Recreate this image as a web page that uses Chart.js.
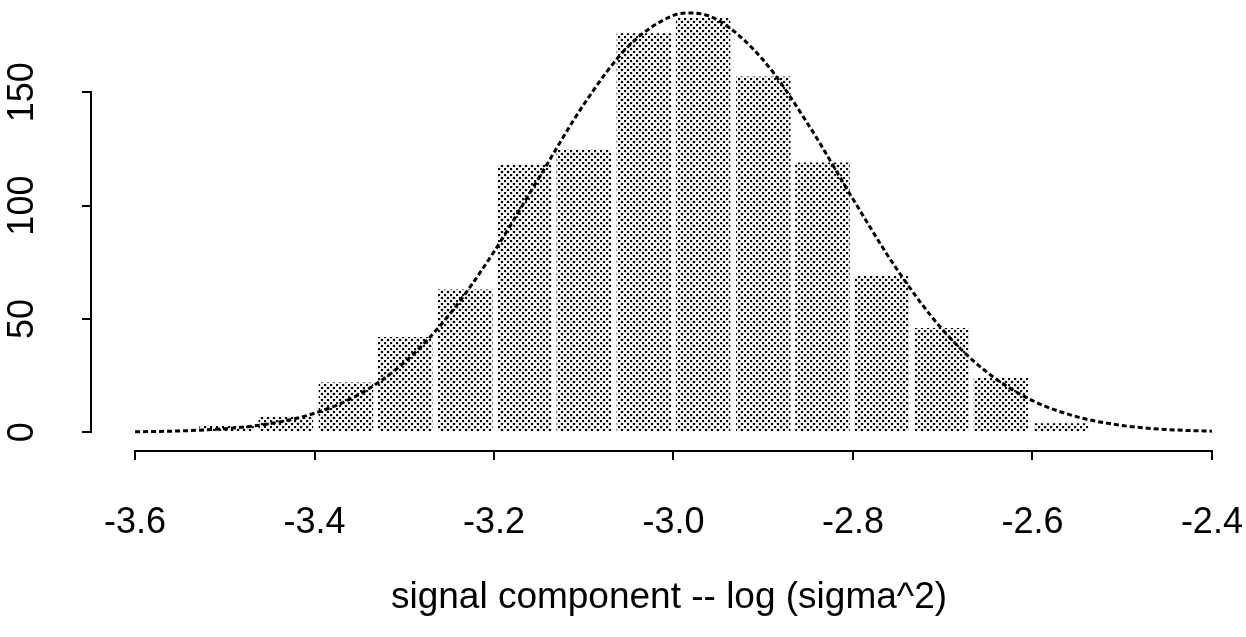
<!DOCTYPE html>
<html>
<head>
<meta charset="utf-8">
<title>signal component histogram</title>
<script src="https://cdn.jsdelivr.net/npm/chart.js@4.4.1/dist/chart.umd.min.js"></script>
<style>
  body { margin: 0; background: #fff; }
  canvas { display: block; }
</style>
</head>
<body>
<canvas id="histChart" width="1246" height="637"></canvas>
<script>
///////////////////////////////// Data /////////////////////////////////

// Histogram: centre of each bin and its count
const binCentres = [-3.498, -3.432, -3.365, -3.299, -3.232, -3.166, -3.100, -3.033,
                    -2.967, -2.900, -2.834, -2.768, -2.701, -2.635, -2.568];
const binCounts = [3, 7, 22, 42, 63, 118, 125, 176, 183, 157, 119, 69, 46, 24, 4];

// Dotted curve
const curveX = [-3.60, -3.55, -3.50, -3.45, -3.40, -3.35, -3.30, -3.25, -3.20, -3.15,
                -3.10, -3.05, -3.00, -2.98, -2.95, -2.90, -2.85, -2.80, -2.75, -2.70,
                -2.65, -2.60, -2.55, -2.50, -2.45, -2.40];
const curveY = [0.2, 0.6, 1.6, 3.8, 8.4, 16.8, 30.8, 51.8, 79.7, 112.2,
                144.6, 170.4, 183.9, 185, 181.7, 164.2, 135.9, 102.9, 71.3, 45.2,
                26.3, 14.0, 6.8, 3.0, 1.2, 0.5];

// Axes
const xTickValues = [-3.6, -3.4, -3.2, -3.0, -2.8, -2.6, -2.4];
const xTickLabels = ['-3.6', '-3.4', '-3.2', '-3.0', '-2.8', '-2.6', '-2.4'];
const yTickValues = [0, 50, 100, 150];
const yTickLabels = ['0', '50', '100', '150'];
const xTitle = 'signal component -- log (sigma^2)';

const fontFamily = '"Liberation Sans", Arial, Helvetica, sans-serif';

///////////////////////////////// Helpers /////////////////////////////////

// Stippled fill like the printed bars
function makeStipple(ctx) {
    const tile = document.createElement('canvas');
    tile.width = 6;
    tile.height = 6;
    const t = tile.getContext('2d');
    t.fillStyle = '#fff';
    t.fillRect(0, 0, 6, 6);
    t.fillStyle = '#000';
    [[1, 1], [4, 4]].forEach(p => {
        t.beginPath();
        t.arc(p[0], p[1], 1.3, 0, Math.PI * 2);
        t.fill();
    });
    return ctx.createPattern(tile, 'repeat');
}

// Axis lines only run from the first to the last tick (R style)
const axisLines = {
    id: 'axisLines',
    afterDraw(chart) {
        const ctx = chart.ctx;
        const xs = chart.scales.x;
        const ys = chart.scales.y;
        ctx.save();
        ctx.strokeStyle = '#000';
        ctx.lineWidth = 2;
        ctx.beginPath();
        ctx.moveTo(xs.getPixelForValue(xTickValues[0]), xs.top + 1);
        ctx.lineTo(xs.getPixelForValue(xTickValues[xTickValues.length - 1]), xs.top + 1);
        ctx.moveTo(ys.right - 1, ys.getPixelForValue(yTickValues[0]));
        ctx.lineTo(ys.right - 1, ys.getPixelForValue(yTickValues[yTickValues.length - 1]));
        ctx.stroke();
        ctx.restore();
    }
};

///////////////////////////////// Chart /////////////////////////////////

const ctx = document.getElementById('histChart').getContext('2d');

const config = {
    type: 'bar',
    data: {
        datasets: [
            {
                type: 'line',
                data: curveX.map((x, i) => ({ x: x, y: curveY[i] })),
                borderColor: '#000',
                borderWidth: 3,
                borderDash: [5, 3],
                pointRadius: 0,
                fill: false,
                cubicInterpolationMode: 'monotone',
                order: 0
            },
            {
                type: 'bar',
                data: binCentres.map((x, i) => ({ x: x, y: binCounts[i] })),
                backgroundColor: makeStipple(ctx),
                borderWidth: 0,
                barPercentage: 0.92,
                categoryPercentage: 1,
                order: 1
            }
        ]
    },
    options: {
        responsive: false,
        animation: false,
        events: [],
        layout: { padding: 0 },
        plugins: {
            legend: { display: false },
            tooltip: { enabled: false }
        },
        scales: {
            x: {
                type: 'linear',
                min: -3.648,
                max: -2.362,
                offset: false,
                afterBuildTicks: s => { s.ticks = xTickValues.map(v => ({ value: v })); },
                afterFit: s => { s.height = 187; s.paddingLeft = 0; s.paddingRight = 0; },
                grid: {
                    display: true, drawOnChartArea: false, drawTicks: true,
                    tickLength: 10, color: '#000', lineWidth: 2, offset: false
                },
                border: { display: false },
                ticks: {
                    color: '#000',
                    font: { family: fontFamily, size: 36 },
                    padding: 41,
                    maxRotation: 0,
                    autoSkip: false,
                    callback: (v, i) => xTickLabels[i]
                },
                title: {
                    display: true,
                    text: xTitle,
                    color: '#000',
                    font: { family: fontFamily, size: 37 },
                    padding: { top: 0, bottom: 17 }
                }
            },
            y: {
                type: 'linear',
                min: -7.81,
                max: 190.7,
                afterBuildTicks: s => { s.ticks = yTickValues.map(v => ({ value: v })); },
                afterFit: s => { s.width = 92; s.paddingTop = 0; s.paddingBottom = 0; },
                grid: {
                    display: true, drawOnChartArea: false, drawTicks: true,
                    tickLength: 10, color: '#000', lineWidth: 2
                },
                border: { display: false },
                ticks: {
                    color: '#000',
                    font: { family: fontFamily, size: 36 },
                    minRotation: 90,
                    maxRotation: 90,
                    crossAlign: 'center',
                    padding: 29,
                    autoSkip: false,
                    callback: (v, i) => yTickLabels[i]
                }
            }
        }
    },
    plugins: [axisLines]
};

const histChart = new Chart(ctx, config);
</script>
</body>
</html>
